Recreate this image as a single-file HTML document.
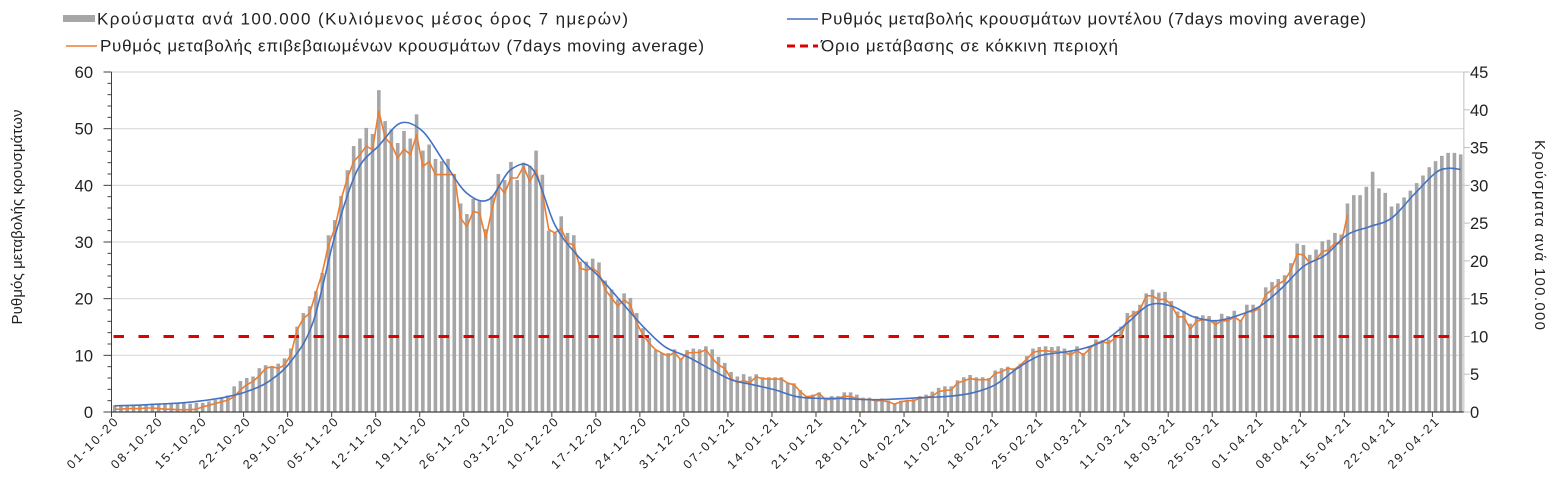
<!DOCTYPE html>
<html><head><meta charset="utf-8">
<style>
body{margin:0;background:#fff;width:1559px;height:492px;overflow:hidden;font-family:"Liberation Sans","DejaVu Sans",sans-serif;}
svg text{font-family:"Liberation Sans","DejaVu Sans",sans-serif;fill:#222;}
</style></head>
<body>
<svg id="chart" width="1559" height="492" viewBox="0 0 1559 492" xmlns="http://www.w3.org/2000/svg">
  <g id="legend">
    <g>
      <rect x="63" y="15" width="32" height="7" fill="#a6a6a6"/>
      <text x="97" y="24.5" font-size="17" textLength="531" lengthAdjust="spacing">Κρούσματα ανά 100.000 (Κυλιόμενος μέσος όρος 7 ημερών)</text>
    </g>
    <g>
      <line x1="787" y1="19" x2="818" y2="19" stroke="#4472c4" stroke-width="1.5"/>
      <text x="821" y="24.5" font-size="17" textLength="545" lengthAdjust="spacing">Ρυθμός μεταβολής κρουσμάτων μοντέλου (7days moving average)</text>
    </g>
    <g>
      <line x1="66" y1="46" x2="97" y2="46" stroke="#ed7d31" stroke-width="1.5"/>
      <text x="100" y="51.5" font-size="17" textLength="604" lengthAdjust="spacing">Ρυθμός μεταβολής επιβεβαιωμένων κρουσμάτων (7days moving average)</text>
    </g>
    <g>
      <line x1="787" y1="46" x2="818" y2="46" stroke="#e00000" stroke-width="3" stroke-dasharray="8,5"/>
      <text x="821" y="51.5" font-size="17" textLength="297" lengthAdjust="spacing">Όριο μετάβασης σε κόκκινη περιοχή</text>
    </g>
  </g>
  <g id="grid"></g>
  <g id="bars"></g>
  <g id="lines"></g>
  <g id="axes"></g>
  <text font-size="15" text-anchor="middle" transform="translate(22,217) rotate(-90)" textLength="215" lengthAdjust="spacing">Ρυθμός μεταβολής κρουσμάτων</text>
  <text font-size="15" text-anchor="middle" transform="translate(1535,235) rotate(90)" textLength="190" lengthAdjust="spacing">Κρούσματα ανά 100.000</text>
</svg>
<script>
const casesPer100k = [0.9,0.9,0.9,1.0,1.0,1.0,1.1,1.1,1.2,1.2,1.2,1.3,1.1,1.2,1.2,1.4,1.6,1.9,2.2,
3.4,4.1,4.5,4.7,5.8,6.2,6.0,6.4,7.1,8.4,11.3,13.1,14.0,16.0,18.4,23.4,25.4,28.6,32.0,35.2,36.2,37.6,36.8,42.6,38.5,37.4,35.6,37.2,36.2,39.4,34.6,35.4,33.5,33.2,33.5,31.5,27.6,26.2,28.2,27.9,24.2,28.5,31.5,30.7,33.1,30.7,33.0,32.6,34.6,
31.4,24.0,23.7,25.9,23.7,23.4,19.9,19.9,20.3,19.8,17.4,16.2,14.9,15.7,15.1,13.1,11.1,9.8,8.2,7.8,7.8,8.3,7.1,8.2,8.4,8.3,8.7,8.3,7.3,6.5,5.3,4.7,5.0,4.7,5.0,4.6,4.6,4.6,4.6,3.9,3.8,2.9,2.1,2.3,2.6,1.8,2.1,2.1,2.6,2.6,2.3,1.9,1.9,1.7,1.8,1.5,1.1,1.5,1.6,1.7,2.1,2.3,2.7,3.2,3.4,3.4,4.2,4.6,4.9,4.6,4.6,4.5,
5.5,5.8,6.0,5.8,6.4,7.4,8.4,8.6,8.7,8.6,8.7,8.4,8.0,8.7,7.8,8.7,9.6,9.5,9.6,10.0,11.3,13.1,13.4,14.2,15.7,16.2,15.8,15.9,14.7,13.3,13.4,11.7,12.7,12.8,12.7,12.2,13.0,12.7,13.4,12.2,14.2,14.2,13.7,16.5,17.2,17.6,18.1,19.7,22.3,22.1,20.8,21.5,22.6,22.8,23.7,23.5,27.6,28.7,28.7,29.8,31.8,29.6,29.0,27.2,27.6,28.4,29.3,30.3,31.3,32.4,33.2,33.9,34.3,34.3,34.1];
const confirmedRate = [0.5,0.5,0.6,0.6,0.6,0.7,0.7,0.6,0.5,0.5,0.4,0.4,0.4,0.5,0.9,1.2,1.5,1.8,2.1,2.7,3.9,4.8,5.4,6.4,7.7,8.0,7.7,8.3,10.1,14.5,16.5,17.4,21.0,24.5,29.5,32.4,37.5,41.3,44.2,45.4,46.9,46.3,53.1,48.4,47.2,44.8,46.4,45.4,48.9,43.3,44.2,41.9,41.9,41.9,41.9,34.2,32.7,35.4,35.1,30.7,35.7,40.1,38.6,41.3,41.3,43.3,40.7,42.7,38.6,32.2,
31.6,32.4,29.8,29.5,25.4,25.0,25.4,24.5,21.6,20.1,18.7,19.8,18.9,15.7,13.6,12.1,11.0,10.4,9.9,10.5,9.2,10.4,10.5,10.5,11.0,9.5,8.3,7.7,5.9,5.2,5.5,5.2,6.2,5.9,5.8,5.8,5.8,5.1,4.8,3.6,2.7,2.8,3.3,2.2,2.2,2.4,2.8,2.7,2.4,2.2,2.2,2.0,2.0,1.8,1.4,1.8,2.0,2.0,2.4,2.6,2.8,3.6,3.8,3.9,5.1,5.5,5.9,5.7,5.7,5.7,
6.8,7.1,7.7,7.5,8.3,9.3,10.5,10.8,10.8,10.7,10.7,10.5,10.1,10.8,10.1,11.1,12.2,12.4,12.1,13.0,13.4,16.5,17.3,18.0,20.5,20.5,19.8,19.9,18.9,16.8,16.8,14.6,16.0,16.3,16.3,15.4,16.1,16.1,16.8,16.0,17.7,17.7,18.3,20.7,21.6,22.6,23.2,25.0,27.9,27.7,26.3,26.9,28.3,28.6,29.8,29.7,34.8];
const modelDays = [0,3.5,7,10.5,14,17.5,21,24.5,28,31.5,35,38.5,42,45.5,49,52.5,56,59.5,63,66.5,70,73.5,77,80.5,84,87.5,91,94.5,98,101.5,105,108.5,112,115.5,119,122.5,126,129.5,133,136.5,140,143.5,147,150.5,154,157.5,161,164.5,168,171.5,175,178.5,182,185.5,189,192.5,196,199.5,203,206.5,210,212,214];
const modelRate = [1.1,1.2,1.4,1.6,2.0,2.6,3.6,5.4,8.9,15.7,31.0,42.5,47.0,51.0,49.5,43.9,38.6,37.5,42.8,42.8,33.0,27.7,23.9,19.5,15.1,11.5,9.8,7.7,5.7,4.8,3.9,2.7,2.4,2.4,2.2,2.2,2.4,2.6,2.8,3.4,4.8,7.7,9.9,10.5,11.2,12.7,15.7,18.9,18.7,16.8,16.1,17.0,18.6,21.8,25.7,27.7,31.3,32.7,34.2,38.3,42.2,43.0,42.8];
const redThreshold = [10];
const leftTicks = [0,10,20,30,40,50,60];
const rightTicks = [0,5,10,15,20,25,30,35,40,45];
const dateLabels = ["01-10-20","08-10-20","15-10-20","22-10-20","29-10-20","05-11-20","12-11-20","19-11-20","26-11-20","03-12-20","10-12-20","17-12-20","24-12-20","31-12-20","07-01-21","14-01-21","21-01-21","28-01-21","04-02-21","11-02-21","18-02-21","25-02-21","04-03-21","11-03-21","18-03-21","25-03-21","01-04-21","08-04-21","15-04-21","22-04-21","29-04-21"];

const NS="http://www.w3.org/2000/svg";
const X0=111.5, DAY=6.29, NDAYS=215, Y0=412, YTOP=72;
const xL = d => X0 + d*DAY;
const xC = d => X0 + (d+0.5)*DAY;
const yLeft = v => Y0 - v*(Y0-YTOP)/60;
const yRight = v => Y0 - v*(Y0-YTOP)/45;
const XEND = xL(NDAYS);
function mk(tag, attrs, parent){const e=document.createElementNS(NS,tag);for(const k in attrs)e.setAttribute(k,attrs[k]);parent.appendChild(e);return e;}
const grid=document.getElementById('grid'), bars=document.getElementById('bars'), lines=document.getElementById('lines'), axes=document.getElementById('axes');

leftTicks.forEach(t=>{
  if(t===0) return;
  const g=mk('line',{x1:X0,x2:XEND,y1:yLeft(t),y2:yLeft(t),stroke:'#d9d9d9','stroke-width':1.2},grid);
  
  
});

casesPer100k.forEach((v,i)=>{
  const r=mk('rect',{x:xC(i)-1.8,y:yRight(v),width:3.6,height:Y0-yRight(v),fill:'#a6a6a6'},bars);
  
  
});

const red=mk('line',{x1:xL(0)+2,x2:xL(213),y1:yRight(redThreshold[0]),y2:yRight(redThreshold[0]),stroke:'#e00000','stroke-width':3,'stroke-dasharray':'10.5,14.5'},lines);



const op=confirmedRate.map((v,i)=>(i?'L':'M')+xC(i).toFixed(1)+','+yLeft(v).toFixed(1)).join(' ');
const orange=mk('path',{d:op,fill:'none',stroke:'#ed7d31','stroke-width':1.6,'stroke-linejoin':'round'},lines);



const pts=modelDays.map((d,i)=>[xC(d),yLeft(modelRate[i])]);
let bp='M'+pts[0][0].toFixed(1)+','+pts[0][1].toFixed(1);
for(let i=0;i<pts.length-1;i++){
  const p0=pts[Math.max(0,i-1)],p1=pts[i],p2=pts[i+1],p3=pts[Math.min(pts.length-1,i+2)];
  const c1=[p1[0]+(p2[0]-p0[0])/6,p1[1]+(p2[1]-p0[1])/6];
  const c2=[p2[0]-(p3[0]-p1[0])/6,p2[1]-(p3[1]-p1[1])/6];
  bp+=' C'+c1.map(n=>n.toFixed(1)).join(',')+' '+c2.map(n=>n.toFixed(1)).join(',')+' '+p2.map(n=>n.toFixed(1)).join(',');
}
const blue=mk('path',{d:bp,fill:'none',stroke:'#4472c4','stroke-width':1.6},lines);



mk('line',{x1:X0,x2:X0,y1:YTOP,y2:Y0,stroke:'#404040','stroke-width':1},axes);
mk('line',{x1:XEND,x2:XEND,y1:YTOP,y2:Y0,stroke:'#bfbfbf','stroke-width':1},axes);
mk('line',{x1:X0,x2:XEND,y1:Y0,y2:Y0,stroke:'#404040','stroke-width':1.2},axes);
for(let v=0;v<=60;v+=2){
  const len = (v%10===0)?8:4;
  mk('line',{x1:X0-len,x2:X0,y1:yLeft(v),y2:yLeft(v),stroke:'#404040','stroke-width':1},axes);
}
leftTicks.forEach(t=>{
  const tx=mk('text',{x:93,y:yLeft(t)+6,'font-size':16.5,'text-anchor':'end'},axes);
  tx.textContent=t;
  
  
});
rightTicks.forEach(t=>{
  mk('line',{x1:XEND,x2:XEND+6,y1:yRight(t),y2:yRight(t),stroke:'#bfbfbf','stroke-width':1},axes);
  const tx=mk('text',{x:1470,y:yRight(t)+6,'font-size':16.5,'text-anchor':'start'},axes);
  tx.textContent=t;
  
  
});
dateLabels.forEach((lab,i)=>{
  const x=xL(i*7);
  mk('line',{x1:x,x2:x,y1:Y0,y2:Y0+5,stroke:'#404040','stroke-width':1},axes);
  const tx=mk('text',{'font-size':12.5,'text-anchor':'end',textLength:66,lengthAdjust:'spacing',transform:'translate('+(x+7)+','+(Y0+11)+') rotate(-45)'},axes);
  tx.textContent=lab;
  
  
});
</script>
</body></html>
